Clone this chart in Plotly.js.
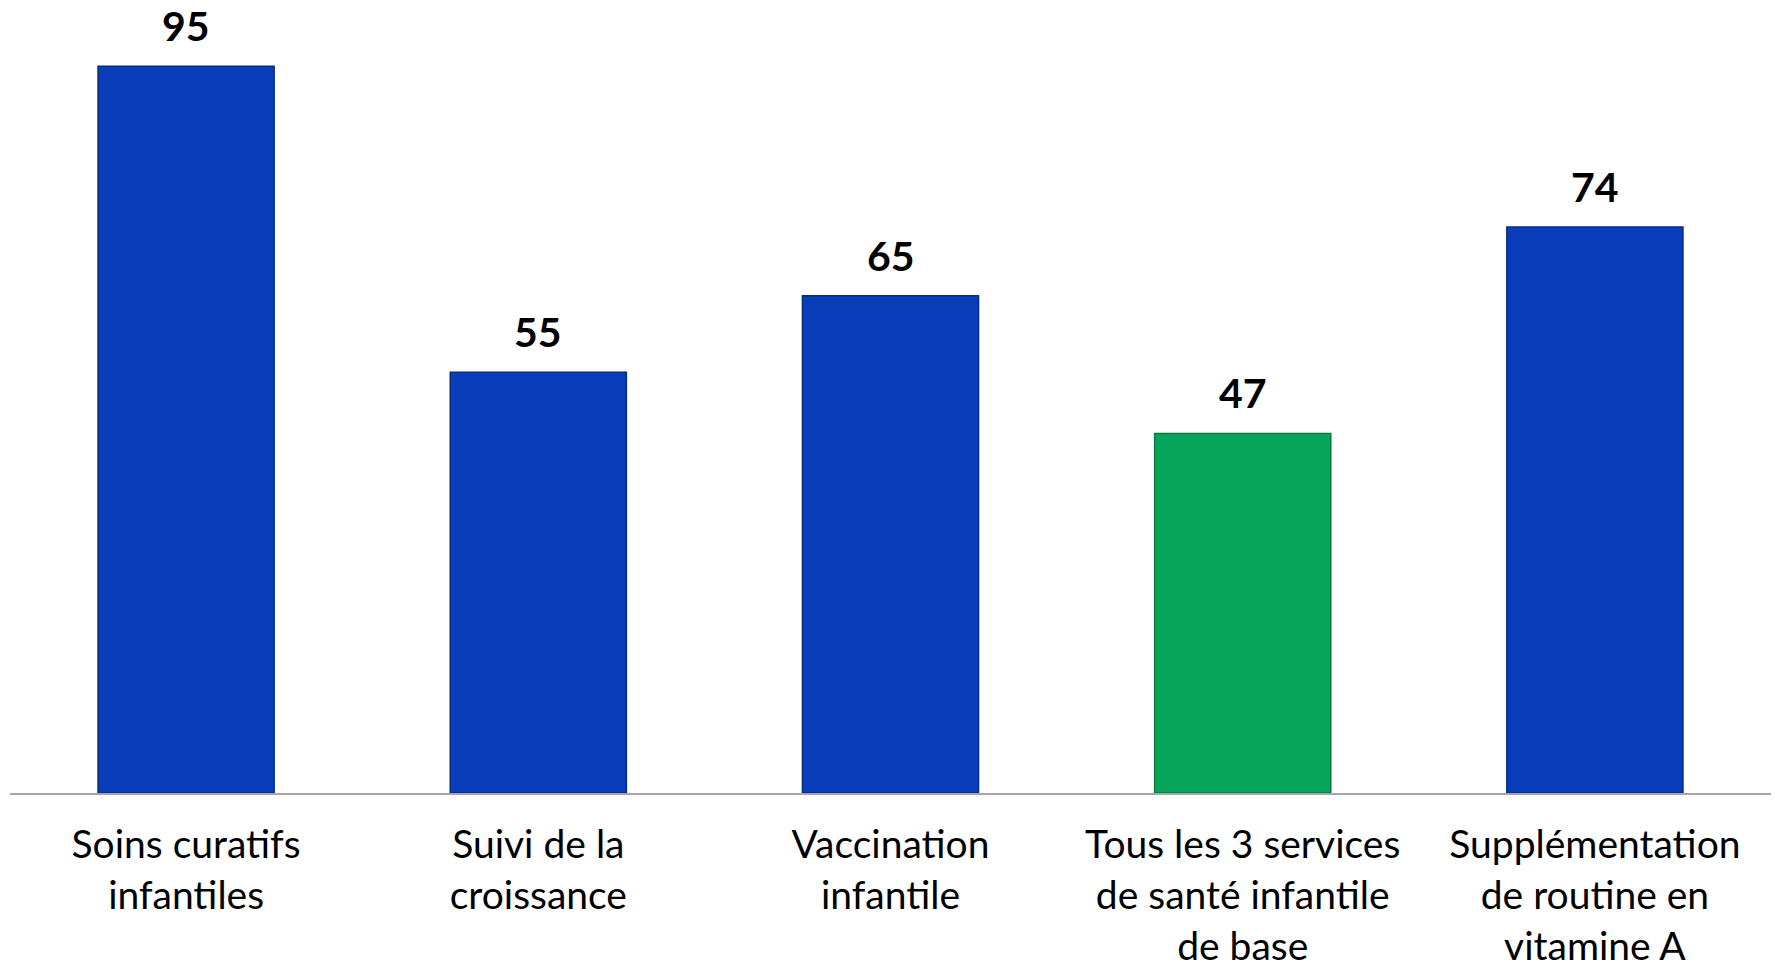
<!DOCTYPE html>
<html>
<head>
<meta charset="utf-8">
<script src="https://cdn.plot.ly/plotly-3.0.1.min.js"></script>
<style>html,body{margin:0;padding:0;background:#fff;}#chart{width:1775px;height:968px;}</style>
</head>
<body>
<div id="chart"></div>
<script>
const categories = [
  "Soins curatifs<br>infantiles",
  "Suivi de la<br>croissance",
  "Vaccination<br>infantile",
  "Tous les 3 services<br>de santé infantile<br>de base",
  "Supplémentation<br>de routine en<br>vitamine A"
];
const values = [95, 55, 65, 47, 74];
const barColors = ["#0a3dba", "#0a3dba", "#0a3dba", "#06a55a", "#0a3dba"];
const lineColors = ["#062a8a", "#062a8a", "#062a8a", "#047a40", "#062a8a"];

const trace = {
  type: "bar",
  x: categories,
  y: values,
  marker: { color: barColors, line: { color: lineColors, width: 1.5 } },
  width: 0.5,
  hoverinfo: "none"
};

const annotations = values.map((v, i) => ({
  x: categories[i], y: v, xref: "x", yref: "y",
  text: "<b>" + v + "</b>", showarrow: false,
  yanchor: "bottom", yshift: 14,
  font: { family: "Lato, 'Open Sans', sans-serif", size: 41, color: "#000" }
}));

const layout = {
  width: 1775, height: 968,
  margin: { l: 10, r: 4, t: 28, b: 175 },
  paper_bgcolor: "#fff", plot_bgcolor: "#fff",
  showlegend: false,
  xaxis: {
    showline: true, linecolor: "#a6a6a6", linewidth: 1.5,
    ticks: "", showgrid: false, zeroline: false,
    tickfont: { family: "Lato, 'Open Sans', sans-serif", size: 39, color: "#000" },
    ticklabelstandoff: 17
  },
  yaxis: {
    range: [0, 100], visible: false, showgrid: false, zeroline: false
  },
  annotations: annotations
};

Plotly.newPlot("chart", [trace], layout, { displayModeBar: false, staticPlot: true });
</script>
</body>
</html>
